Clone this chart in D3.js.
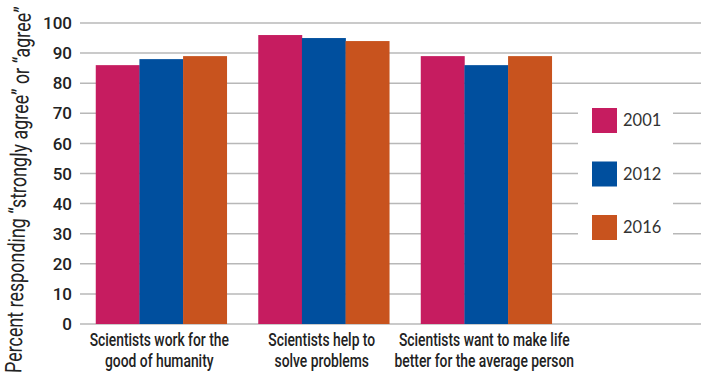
<!DOCTYPE html>
<html>
<head>
<meta charset="utf-8">
<script src="https://cdn.jsdelivr.net/npm/d3@7"></script>
<style>
  body { margin: 0; background: #fff; }
  svg { display: block; }
</style>
</head>
<body>
<div id="chart"></div>
<script>
// data
var categories = [
    ["Scientists work for the", "good of humanity"],
    ["Scientists help to", "solve problems"],
    ["Scientists want to make life", "better for the average person"]
];
var years = ["2001", "2012", "2016"];
var values2001 = [86, 96, 89];
var values2012 = [88, 95, 86];
var values2016 = [89, 94, 89];
var yTicks = [0, 10, 20, 30, 40, 50, 60, 70, 80, 90, 100];
var yTitle = "Percent responding \u201cstrongly agree\u201d or \u201cagree\u201d";

var colors = ["#c61c60", "#004f9e", "#c8531e"];
var series = [values2001, values2012, values2016];

var width = 701, height = 372;
var font = "Roboto, 'Liberation Sans', sans-serif";
var squeeze = 0.77;   // fake a condensed face

var svg = d3.select("#chart").append("svg")
    .attr("width", width)
    .attr("height", height);

var y = d3.scaleLinear().domain([0, 100]).range([324, 23]);

var x0 = d3.scaleBand()
    .domain(d3.range(categories.length))
    .range([80, 567.5])
    .paddingInner(0.194)
    .paddingOuter(0.097);

var x1 = d3.scaleBand()
    .domain(d3.range(years.length))
    .range([0, x0.bandwidth()]);

// gridlines
svg.append("g").selectAll("line")
    .data(yTicks)
    .enter().append("line")
    .attr("x1", 80)
    .attr("x2", width)
    .attr("y1", function(d) { return y(d); })
    .attr("y2", function(d) { return y(d); })
    .style("stroke", "#b8b8b8")
    .style("stroke-width", 1.5);

// tick labels
svg.append("g").selectAll("text")
    .data(yTicks)
    .enter().append("text")
    .attr("x", 72)
    .attr("y", function(d) { return y(d); })
    .attr("dy", "0.36em")
    .attr("text-anchor", "end")
    .style("font-family", font)
    .style("font-size", "17px")
    .style("font-weight", 500)
    .style("fill", "#222")
    .text(function(d) { return d; });

// bars
var groups = svg.append("g").selectAll("g")
    .data(categories)
    .enter().append("g")
    .attr("transform", function(d, i) { return "translate(" + x0(i) + ",0)"; });

groups.selectAll("rect")
    .data(function(d, i) {
        return series.map(function(s, k) { return { k: k, v: s[i] }; });
    })
    .enter().append("rect")
    .attr("x", function(d) { return x1(d.k); })
    .attr("width", x1.bandwidth() + 0.3)
    .attr("y", function(d) { return y(d.v); })
    .attr("height", function(d) { return y(0) - y(d.v); })
    .style("fill", function(d) { return colors[d.k]; });

// category labels
groups.each(function(d) {
    var t = d3.select(this).append("text")
        .attr("transform", "translate(" + (x0.bandwidth() / 2 - 2) + ",0) scale(" + squeeze + ",1)")
        .attr("text-anchor", "middle")
        .style("font-family", font)
        .style("font-size", "18px")
        .style("font-weight", 500)
        .style("fill", "#222");
    d.forEach(function(line, j) {
        t.append("tspan")
            .attr("x", 0)
            .attr("y", 346 + j * 21)
            .text(line);
    });
});

// legend
var legend = svg.append("g");
legend.append("rect")
    .attr("x", 578)
    .attr("y", 95)
    .attr("width", 95)
    .attr("height", 160)
    .style("fill", "#fff");

var items = legend.selectAll("g.item")
    .data(years)
    .enter().append("g")
    .attr("class", "item")
    .attr("transform", function(d, i) { return "translate(592," + (108 + i * 53.5) + ")"; });

items.append("rect")
    .attr("width", 25)
    .attr("height", 25)
    .style("fill", function(d, i) { return colors[i]; });

items.append("text")
    .attr("x", 31)
    .attr("y", 12.5)
    .attr("dy", "0.36em")
    .style("font-family", "Lato, sans-serif")
    .style("font-size", "16.5px")
    .style("fill", "#333")
    .text(function(d) { return d; });

// y title, slightly tilted as in the original
svg.append("text")
    .attr("transform", "translate(26,190) rotate(-88.5) scale(0.78,1)")
    .attr("text-anchor", "middle")
    .style("font-family", font)
    .style("font-size", "23px")
    .style("fill", "#222")
    .text(yTitle);
</script>
</body>
</html>
